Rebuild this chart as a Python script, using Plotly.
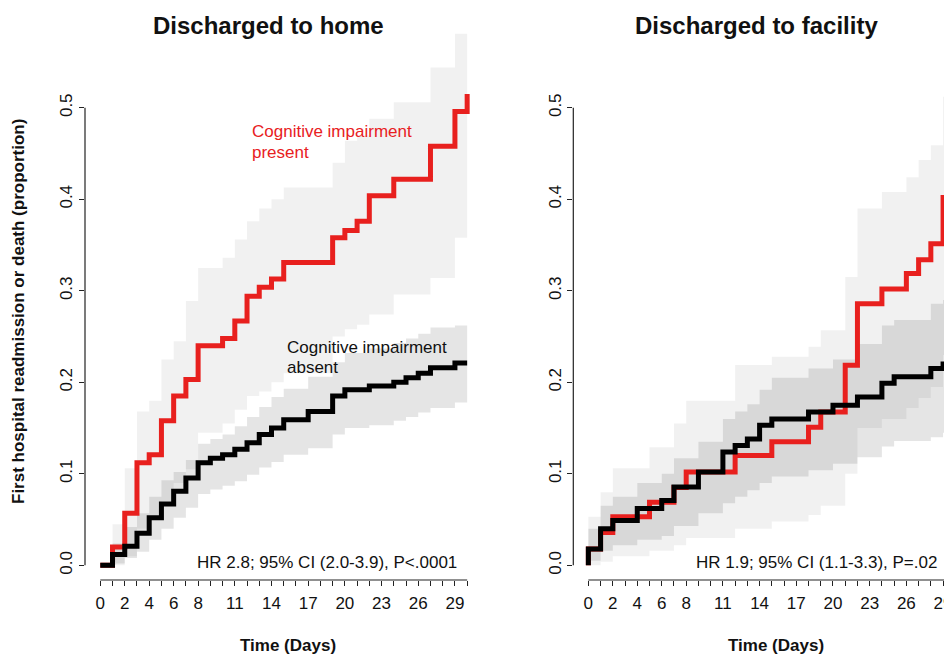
import plotly.graph_objects as go

# ---------------- data ----------------
# Left panel: Discharged to home
home_present_days = [0, 1, 2, 3, 4, 5, 6, 7, 8, 10, 11, 12, 13, 14, 15, 19, 20, 21, 22, 24, 27, 29, 30]
home_present_vals = [0, 0.02, 0.057, 0.112, 0.121, 0.158, 0.185, 0.203, 0.240, 0.248, 0.267, 0.294, 0.304,
                     0.313, 0.331, 0.358, 0.366, 0.376, 0.404, 0.422, 0.458, 0.496, 0.515]
home_present_upper = [0, 0.045, 0.106, 0.168, 0.18, 0.225, 0.245, 0.289, 0.325, 0.336, 0.356, 0.376, 0.39,
                      0.40, 0.413, 0.44, 0.464, 0.47, 0.488, 0.506, 0.544, 0.581, 0.59]
home_present_lower = [0, 0.0, 0.01, 0.04, 0.05, 0.07, 0.09, 0.105, 0.145, 0.155, 0.17, 0.185, 0.19,
                      0.2, 0.21, 0.25, 0.258, 0.263, 0.274, 0.296, 0.314, 0.358, 0.39]

home_absent_days = [0, 1, 2, 3, 4, 5, 6, 7, 8, 9, 10, 11, 12, 13, 14, 15, 17, 19, 20, 22, 24, 25, 26, 27, 29]
home_absent_vals = [0, 0.012, 0.021, 0.035, 0.052, 0.067, 0.081, 0.0955, 0.112, 0.117, 0.121, 0.127, 0.134,
                    0.143, 0.150, 0.159, 0.168, 0.185, 0.192, 0.196, 0.2, 0.205, 0.21, 0.216, 0.221]
home_absent_upper = [0, 0.024, 0.042, 0.057, 0.075, 0.093, 0.102, 0.115, 0.133, 0.138, 0.143, 0.152, 0.162,
                     0.173, 0.184, 0.193, 0.206, 0.222, 0.232, 0.237, 0.243, 0.248, 0.253, 0.26, 0.262]
home_absent_lower = [0, 0.002, 0.008, 0.015, 0.028, 0.04, 0.052, 0.063, 0.078, 0.083, 0.087, 0.092, 0.099,
                     0.107, 0.113, 0.121, 0.128, 0.143, 0.15, 0.153, 0.158, 0.162, 0.167, 0.172, 0.178]

# Right panel: Discharged to facility
fac_present_days = [0, 0, 1, 2, 5, 7, 8, 12, 15, 18, 19, 21, 22, 24, 26, 27, 28, 29]
fac_present_vals = [0, 0.018, 0.036, 0.053, 0.069, 0.085, 0.102, 0.120, 0.135, 0.151, 0.1675, 0.2186,
                    0.286, 0.302, 0.319, 0.334, 0.3515, 0.402]
fac_present_upper = [0, 0.053, 0.08, 0.106, 0.129, 0.155, 0.18, 0.219, 0.228, 0.239, 0.257, 0.315,
                     0.39, 0.408, 0.424, 0.443, 0.459, 0.512]
fac_present_lower = [0, 0, 0.004, 0.01, 0.016, 0.022, 0.03, 0.04, 0.048, 0.055, 0.065, 0.1,
                     0.15, 0.16, 0.172, 0.183, 0.195, 0.23]

fac_absent_days = [0, 0, 1, 2, 4, 6, 7, 9, 11, 12, 13, 14, 15, 18, 20, 22, 24, 25, 28, 29]
fac_absent_vals = [0, 0.018, 0.040, 0.049, 0.062, 0.071, 0.0856, 0.102, 0.124, 0.131, 0.138, 0.153,
                   0.160, 0.1675, 0.175, 0.184, 0.199, 0.206, 0.215, 0.220]
fac_absent_upper = [0, 0.04, 0.065, 0.075, 0.09, 0.1, 0.117, 0.135, 0.16, 0.168, 0.176, 0.192,
                    0.205, 0.215, 0.225, 0.242, 0.262, 0.268, 0.286, 0.29]
fac_absent_lower = [0, 0.005, 0.016, 0.022, 0.028, 0.032, 0.043, 0.057, 0.068, 0.075, 0.082, 0.09,
                    0.097, 0.104, 0.111, 0.118, 0.13, 0.136, 0.14, 0.145]

end_day = 30
tick_days = list(range(0, 31))
labelled_days = [0, 2, 4, 6, 8, 11, 14, 17, 20, 23, 26, 29]
y_ticks = [0.0, 0.1, 0.2, 0.3, 0.4, 0.5]
y_tick_labels = ["0.0", "0.1", "0.2", "0.3", "0.4", "0.5"]

RED = "#e8201e"
BLACK = "#000000"
FONT = "Liberation Sans, Arial, Helvetica, sans-serif"

# ---------------- layout geometry ----------------
# The html page body has an 8px margin, so the figure is drawn 8px smaller and
# all window-pixel positions below are measured in the 952x656 window.
OFF = 8
W, H = 952 - OFF, 656 - OFF
ML, MR, MT, MB = 85 - OFF, 0, 30 - OFF, 76
PW, PH = W - ML - MR, H - MT - MB


def xp(px):
    return (px - OFF - ML) / PW


def yp(py):
    return (H - MB - (py - OFF)) / PH


def steps(days, vals, end):
    xs, ys = [], []
    for i, (d, v) in enumerate(zip(days, vals)):
        if i > 0:
            xs.append(d)
            ys.append(vals[i - 1])
        xs.append(d)
        ys.append(v)
    xs.append(end)
    ys.append(vals[-1])
    return xs, ys


def band(days, upper, lower, end, color, xa, ya):
    xu, yu = steps(days, upper, end)
    xl, yl = steps(days, lower, end)
    return go.Scatter(x=xu + xl[::-1], y=yu + yl[::-1], fill="toself", fillcolor=color,
                      mode="lines", line=dict(width=0, color="rgba(0,0,0,0)"),
                      hoverinfo="skip", showlegend=False, xaxis=xa, yaxis=ya)


def km_line(days, vals, end, color, xa, ya):
    return go.Scatter(x=list(days) + [end], y=list(vals) + [vals[-1]], mode="lines",
                      line=dict(color=color, width=5, shape="hv"),
                      showlegend=False, xaxis=xa, yaxis=ya)


LIGHT = "rgba(0,0,0,0.055)"
MED = "rgba(0,0,0,0.10)"

fig = go.Figure()
# left panel
fig.add_trace(band(home_present_days, home_present_upper, home_present_lower, end_day, LIGHT, "x", "y"))
fig.add_trace(band(home_absent_days, home_absent_upper, home_absent_lower, end_day, MED, "x", "y"))
fig.add_trace(km_line(home_present_days, home_present_vals, end_day, RED, "x", "y"))
fig.add_trace(km_line(home_absent_days, home_absent_vals, end_day, BLACK, "x", "y"))
# right panel
fig.add_trace(band(fac_present_days, fac_present_upper, fac_present_lower, end_day, LIGHT, "x2", "y2"))
fig.add_trace(band(fac_absent_days, fac_absent_upper, fac_absent_lower, end_day, MED, "x2", "y2"))
fig.add_trace(km_line(fac_present_days, fac_present_vals, end_day, RED, "x2", "y2"))
fig.add_trace(km_line(fac_absent_days, fac_absent_vals, end_day, BLACK, "x2", "y2"))

tick_text = [str(d) if d in labelled_days else "" for d in tick_days]
xcommon = dict(tickmode="array", tickvals=tick_days, ticktext=tick_text, ticks="outside",
               ticklen=5, tickwidth=1, tickcolor="#222", showgrid=False, zeroline=False,
               showline=False, ticklabelstandoff=3, ticklabeloverflow="allow",
               tickfont=dict(family=FONT, size=17, color="#111"))
ycommon = dict(tickmode="array", tickvals=y_ticks, ticktext=y_tick_labels, ticks="outside",
               ticklen=5, tickwidth=1, tickcolor="#222", showgrid=False, zeroline=False,
               showline=False, tickangle=-90, range=[-0.016, 0.585],
               tickfont=dict(family=FONT, size=17, color="#111"))

left_x1 = 485.5
right_x0 = 573.3
fig.update_layout(
    width=W, height=H,
    margin=dict(l=ML, r=MR, t=MT, b=MB),
    paper_bgcolor="white", plot_bgcolor="white",
    font=dict(family=FONT, color="#111"),
    xaxis=dict(domain=[0, xp(left_x1)], range=[-1.25, 31.5], anchor="y", **xcommon),
    yaxis=dict(domain=[0, 1], anchor="x", **ycommon),
    xaxis2=dict(domain=[xp(right_x0), 1], range=[-1.23, 29.73], anchor="y2", **xcommon),
    yaxis2=dict(domain=[0, 1], anchor="x2", **ycommon),
)

# axis lines (R style, detached)
for xa, ya in (("x", "y"), ("x2", "y2")):
    fig.add_shape(type="line", xref=xa, yref=ya + " domain", x0=0, x1=end_day, y0=0, y1=0,
                  line=dict(color="#222", width=1.2))
    fig.add_shape(type="line", xref=xa + " domain", yref=ya, x0=0, x1=0, y0=0, y1=0.5,
                  line=dict(color="#222", width=1.2))


def note(text, px, py, size=17, color="#111", xanchor="center", angle=0, bold=False):
    if bold:
        text = "<b>" + text + "</b>"
    fig.add_annotation(text=text, x=xp(px), y=yp(py), xref="paper", yref="paper",
                       xanchor=xanchor, yanchor="middle", showarrow=False, textangle=angle,
                       font=dict(family=FONT, size=size, color=color))


note("Discharged to home", 268, 25, size=24, bold=True)
note("Discharged to facility", 756.5, 25, size=24, bold=True)
note("Time (Days)", 287.5, 645, size=17, bold=True)
note("Time (Days)", 775.5, 645, size=17, bold=True)
note("First hospital readmission or death (proportion)", 18, 312, size=17, bold=True, angle=-90)
note("Cognitive impairment", 250, 132, color=RED, xanchor="left")
note("present", 250, 152, color=RED, xanchor="left")
note("Cognitive impairment", 285, 347, color="#111", xanchor="left")
note("absent", 285, 367, color="#111", xanchor="left")
note("HR 2.8; 95% CI (2.0-3.9), P<.0001", 459, 562, xanchor="right")
note("HR 1.9; 95% CI (1.1-3.3), P=.02", 939, 562, xanchor="right")

# hide page scrollbars so the figure reaches the window edges
fig.write_html(
    "out.html",
    post_script="document.documentElement.style.overflow='hidden';"
                "document.body.style.overflow='hidden';",
)
